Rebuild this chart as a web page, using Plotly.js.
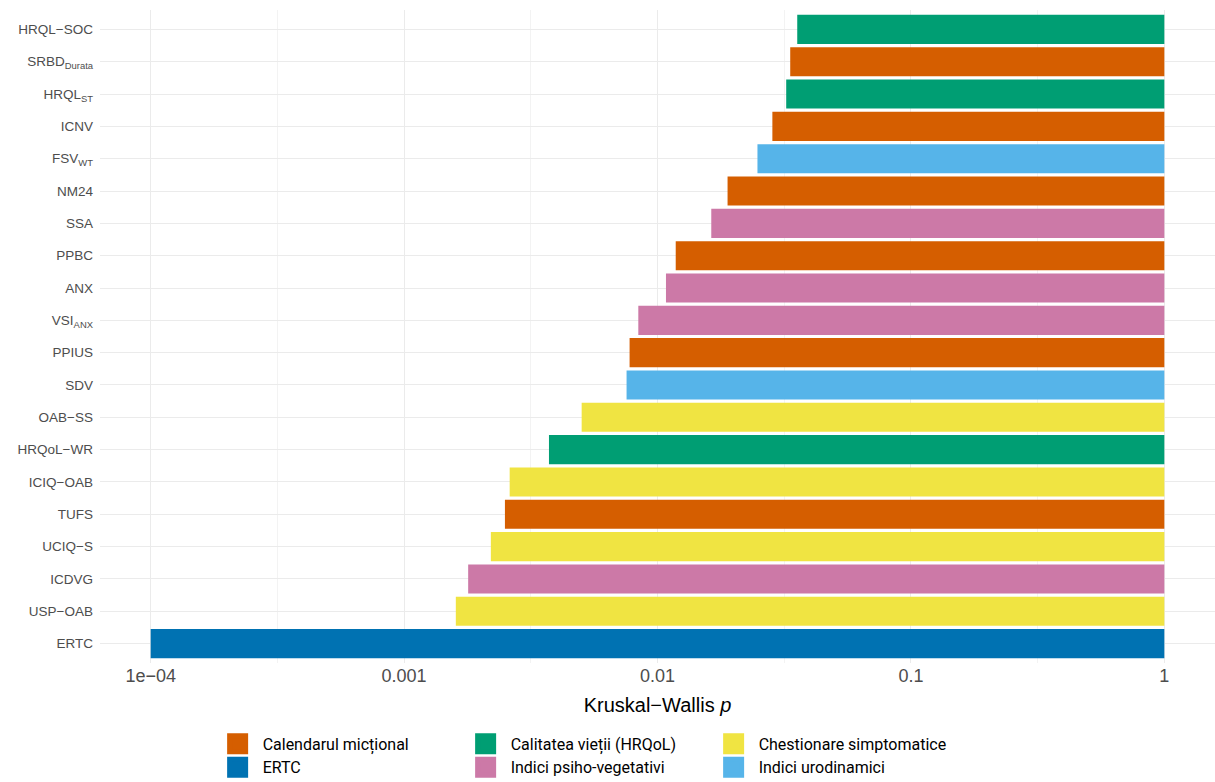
<!DOCTYPE html>
<html>
<head>
<meta charset="utf-8">
<script src="https://cdn.plot.ly/plotly-3.0.1.min.js"></script>
<style>html,body{margin:0;padding:0;background:#fff;}#chart{width:1215px;height:782px;}</style>
</head>
<body>
<div id="chart"></div>
<script>
// Categories from top to bottom
const labels = ["HRQL\u2212SOC","SRBD<sub>Durata</sub>","HRQL<sub>ST</sub>","ICNV","FSV<sub>WT</sub>","NM24","SSA","PPBC","ANX","VSI<sub>ANX</sub>","PPIUS","SDV","OAB\u2212SS","HRQoL\u2212WR","ICIQ\u2212OAB","TUFS","UCIQ\u2212S","ICDVG","USP\u2212OAB","ERTC"];
const pValues = [0.0356,0.0334,0.0322,0.0284,0.0248,0.0189,0.0163,0.0118,0.0108,0.0084,0.00776,0.00755,0.00502,0.00373,0.00261,0.00250,0.00220,0.00179,0.00160,0.0001];
const groups = ["Calitatea vieții (HRQoL)","Calendarul micțional","Calitatea vieții (HRQoL)","Calendarul micțional","Indici urodinamici","Calendarul micțional","Indici psiho-vegetativi","Calendarul micțional","Indici psiho-vegetativi","Indici psiho-vegetativi","Calendarul micțional","Indici urodinamici","Chestionare simptomatice","Calitatea vieții (HRQoL)","Chestionare simptomatice","Calendarul micțional","Chestionare simptomatice","Indici psiho-vegetativi","Chestionare simptomatice","ERTC"];
const groupNames = ["Calendarul micțional","Calitatea vieții (HRQoL)","Chestionare simptomatice","ERTC","Indici psiho-vegetativi","Indici urodinamici"];
const groupColors = ["#D55E00","#009E73","#F0E442","#0072B2","#CC79A7","#56B4E9"];
const xTickVals = [0.0001,0.001,0.01,0.1,1];
const xTickText = ["1e\u221204","0.001","0.01","0.1","1"];
const xMinorVals = [0.000316,0.00316,0.0316,0.316];

const barTraces = groupNames.map((g, gi) => {
  const idx = labels.map((_, i) => i).filter(i => groups[i] === g);
  return {
    type: 'bar',
    orientation: 'h',
    name: g,
    legendgroup: g,
    showlegend: false,
    y: idx.map(i => labels[i]),
    base: idx.map(i => pValues[i]),
    x: idx.map(i => 1 - pValues[i]),
    width: 0.9,
    marker: {color: groupColors[gi], line: {width: 0}},
    hovertemplate: '%{y}: p=%{base}<extra>' + g + '</extra>'
  };
});
// legend keys (larger square swatches), one per group; first three in row 1, last three in row 2
const legendTraces = groupNames.map((g, gi) => ({
  type: 'scatter', mode: 'markers', name: g, legendgroup: g,
  legend: gi < 3 ? 'legend' : 'legend2',
  x: [null], y: [null],
  marker: {symbol: 'square', size: 16, color: groupColors[gi], line: {width: 5, color: groupColors[gi]}},
  hoverinfo: 'skip'
}));

const legendBase = {
  orientation: 'h',
  xref: 'container', yref: 'container',
  x: 0.175, xanchor: 'left', yanchor: 'top',
  entrywidth: 193, entrywidthmode: 'pixels',
  traceorder: 'normal',
  font: {family: 'Roboto, sans-serif', size: 16, color: '#000'},
  itemwidth: 40,
  bgcolor: 'rgba(0,0,0,0)'
};

const layout = {
  width: 1215, height: 782,
  paper_bgcolor: '#fff', plot_bgcolor: '#fff',
  margin: {l: 100, r: 0, t: 10, b: 119},
  font: {family: 'Liberation Sans, Arial, sans-serif', color: '#4d4d4d'},
  barmode: 'overlay',
  showlegend: true,
  xaxis: {
    type: 'log',
    range: [-4.2, 0.2],
    tickmode: 'array',
    tickvals: xTickVals,
    ticktext: xTickText,
    tickfont: {size: 18, color: '#4d4d4d'},
    showgrid: true, gridcolor: '#ebebeb', gridwidth: 1,
    minor: {tickmode: 'array', tickvals: xMinorVals, showgrid: true, gridcolor: '#f3f3f3', gridwidth: 1, ticks: ''},
    zeroline: false, showline: false, ticks: '',
    title: {text: 'Kruskal\u2212Wallis <i>p</i>', font: {size: 20, color: '#000'}, standoff: 12}
  },
  yaxis: {
    type: 'category',
    categoryorder: 'array',
    categoryarray: labels.slice().reverse(),
    range: [-0.6, 19.6],
    tickfont: {size: 13.5, color: '#4d4d4d'},
    showgrid: true, gridcolor: '#ebebeb', gridwidth: 1,
    zeroline: false, showline: false, ticks: '',
    ticklabelstandoff: 6
  },
  legend: Object.assign({}, legendBase, {y: 0.0705}),
  legend2: Object.assign({}, legendBase, {y: 0.0405})
};

Plotly.newPlot('chart', barTraces.concat(legendTraces), layout, {displayModeBar: false, staticPlot: true});
</script>
</body>
</html>
